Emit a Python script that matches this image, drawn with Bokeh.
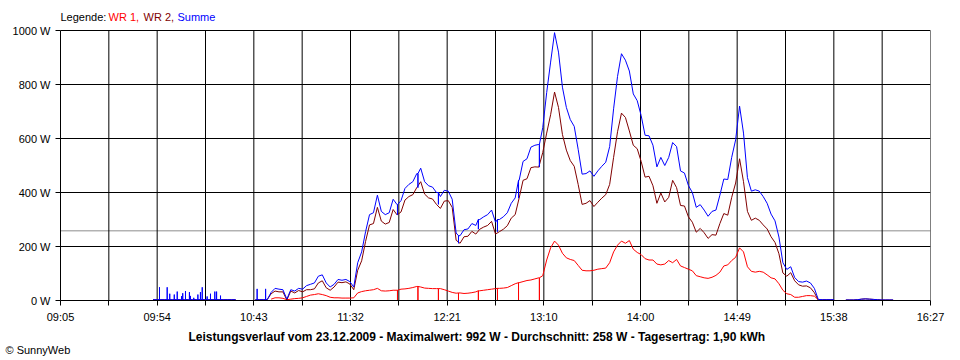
from bokeh.plotting import figure
from bokeh.models import FixedTicker, Span, Label, Range1d, PrintfTickFormatter, CustomJSTickFormatter, Title
from bokeh.embed import file_html
from bokeh.resources import INLINE
import json

# ---- data -------------------------------------------------------------
START_MIN = 545   # 09:05
END_MIN = 987     # 16:27
X_LABELS = ["09:05", "09:54", "10:43", "11:32", "12:21", "13:10", "14:00", "14:49", "15:38", "16:27"]
Y_TICKS = [0, 200, 400, 600, 800, 1000]

FIRST_SAMPLE = 584   # 09:44
SAMPLE_STEP = 2      # minutes

# Summe (W) on the 2-minute grid; None = no data
summe = [
    None, None, None, None, 3, 3, 3, 3, 3, 3,
    3, 3, 3, 3, 3, 3, 3, 3, 3, 3,
    3, 3, 3, 3, 3, 3, None, None, None, None,
    3, 3, 3, 3, 30, 45, 42, 40, 5, 40,
    35, 45, 42, 55, 60, 65, 90, 95, 65, 50,
    60, 78, 75, 78, 70, 50, 140, 180, 255, 318,
    325, 390, 330, 318, 325, 375, 355, 370, 415, 430,
    440, 470, 490, 440, 425, 420, 400, 385, 408, 405,
    375, 250, 240, 262, 265, 285, 278, 300, 310, 318,
    335, 290, 300, 310, 325, 360, 380, 445, 515, 525,
    568, 575, 578, 640, 770, 883, 992, 920, 790, 715,
    670, 645, 560, 468, 470, 480, 460, 480, 497, 512,
    570, 710, 830, 914, 890, 850, 765, 740, 685, 612,
    610, 575, 495, 530, 500, 530, 585, 570, 480, 472,
    426, 400, 345, 355, 335, 312, 330, 335, 390, 450,
    448, 530, 595, 720, 620, 455, 405, 410, 405, 385,
    360, 320, 295, 235, 140, 115, 125, 85, 70, 68,
    72, 65, 45, 4, 3, 3, 3, 3, None, None,
    2, 2, 2, 3, 5, 6, 5, 4, 3, 2,
    2, 2, 2, None,
]

# WR 1 (W) on the same grid; None = no data
wr1 = [None] * 34 + [
    5, 10, 10, 8, 3, 5,
    7, 8, 10, 15, 20, 22, 25, 22, 18, 12,
    10, 10, 9, 9, 9, 10, 28, 33, 36, 38,
    40, 45, 36, 35, 36, 38, 38, 42, 43, 45,
    48, 52, 50, 46, 45, 44, 44, 44, 40, 35,
    30, 27, 28, 26, 27, 29, 32, 36, 38, 40,
    42, 44, 45, 46, 48, 55, 62, 66, 70, 74,
    76, 80, 84, 92, 150, 195, 220, 205, 175, 158,
    152, 148, 130, 112, 110, 110, 112, 116, 118, 120,
    140, 180, 205, 220, 212, 222, 190, 178, 170, 155,
    150, 150, 135, 132, 135, 148, 140, 152, 128, 122,
    116, 110, 92, 88, 84, 82, 86, 93, 105, 128,
    132, 148, 160, 195, 180, 125, 108, 105, 108, 105,
    95, 84, 80, 62, 38, 25, 22, 12, 12, 15,
    18, 18, 16, 3,
] + [None] * 20

# short single-reading spikes of the sum in the morning (minute of day, W)
EARLY_SPIKES = [(595.3, 49), (599.2, 49), (600.5, 25), (602.8, 22), (604.3, 33), (606.5, 16),
                (607.1, 27), (608.5, 35), (610.5, 31), (611.0, 17), (612.7, 10), (614.8, 22),
                (616.1, 31), (617.0, 49), (619.5, 15), (621.2, 25), (623.4, 33), (624.3, 33),
                (626.3, 18), (644.9, 43), (649.2, 43)]
# single readings where WR 1 dropped to 0 W (minute of day)
WR1_DROPOUTS = [716.2, 726.6, 737.0, 747.2, 757.3, 767.0, 777.7, 788.3]

MAXIMUM = 992
AVERAGE = 258
DAY_YIELD = "1,90 kWh"
DATE = "23.12.2009"

# ---- series -----------------------------------------------------------
minutes = [FIRST_SAMPLE + SAMPLE_STEP * i for i in range(len(summe))]
wr2 = [None if s is None else (s if r is None else s - r) for s, r in zip(summe, wr1)]


def grid_index(t):
    return int(round((t - FIRST_SAMPLE) / SAMPLE_STEP))


def with_spikes(times, vals, spikes):
    pts = list(zip(times, vals))
    for t, top in spikes:
        base = vals[grid_index(t)]
        pts += [(t, base), (t, top), (t, base)]
    pts.sort(key=lambda q: q[0])
    return [q[0] for q in pts], [float("nan") if q[1] is None else q[1] for q in pts]


red_x, red_y = with_spikes(minutes, wr1, [(t, 0) for t in WR1_DROPOUTS])
blue_spikes = EARLY_SPIKES + [(t, summe[grid_index(t)] - wr1[grid_index(t)]) for t in WR1_DROPOUTS]
blue_x, blue_y = with_spikes(minutes, summe, blue_spikes)
dred_x, dred_y = with_spikes(minutes, wr2, [])

# ---- figure -----------------------------------------------------------
FONT = "Liberation Sans"
FW = 870
GRID_H = 270          # pixel height of the 0..1000 W grid
TOP_PAD = 30          # pixels above the grid (legend row), inside the frame
FH = GRID_H + TOP_PAD
Y_MAX = 1000
Y_TOP = Y_MAX * FH / GRID_H
ML, MT, MR, MB = 60, 0, 28, 58

p = figure(frame_width=FW, frame_height=FH,
           x_range=Range1d(START_MIN, END_MIN), y_range=Range1d(0, Y_TOP),
           output_backend="svg", toolbar_location=None,
           min_border_left=ML, min_border_top=MT, min_border_right=MR, min_border_bottom=MB)
p.outline_line_color = None
p.background_fill_color = "white"
p.border_fill_color = "white"

step = (END_MIN - START_MIN) / 18
major = [START_MIN + 2 * i * step for i in range(10)]
minor = [START_MIN + (2 * i + 1) * step for i in range(9)]
all_x_ticks = sorted(major + minor)

xa = p.xaxis[0]
xa.ticker = FixedTicker(ticks=major, minor_ticks=minor)
xa.formatter = CustomJSTickFormatter(code="""
const labels = %s;
const i = Math.round((tick - %f) / %f);
return labels[i] ?? "";
""" % (json.dumps(X_LABELS), START_MIN, 2 * step))
xa.major_tick_out = 5
xa.major_tick_in = 0
xa.minor_tick_out = 5
xa.minor_tick_in = 0
xa.axis_line_color = "black"
xa.major_tick_line_color = "black"
xa.minor_tick_line_color = "black"
xa.major_label_standoff = 5
xa.major_label_text_font = FONT
xa.major_label_text_font_size = "11px"
xa.major_label_text_color = "black"

ya = p.yaxis[0]
ya.ticker = FixedTicker(ticks=Y_TICKS, minor_ticks=[])
ya.formatter = PrintfTickFormatter(format="%d W")
ya.bounds = (0, Y_MAX)
ya.major_tick_out = 5
ya.major_tick_in = 0
ya.minor_tick_out = 0
ya.minor_tick_in = 0
ya.axis_line_color = "black"
ya.major_tick_line_color = "black"
ya.major_label_standoff = 5
ya.major_label_text_font = FONT
ya.major_label_text_font_size = "11px"
ya.major_label_text_color = "black"

p.xgrid.visible = False
p.ygrid.grid_line_color = "black"

avg = Span(location=AVERAGE, dimension="width", line_color="#8c8c8c", line_width=1, level="underlay")
p.add_layout(avg)

# vertical grid lines, only over the 0..1000 W band
p.segment(x0=all_x_ticks, y0=[0] * len(all_x_ticks), x1=all_x_ticks, y1=[Y_MAX] * len(all_x_ticks),
          line_color="black", line_width=1)

p.line(red_x, red_y, line_color="#ff0000", line_width=1)
p.line(dred_x, dred_y, line_color="#800000", line_width=1)
p.line(blue_x, blue_y, line_color="#0000ff", line_width=1)

# ---- texts ------------------------------------------------------------
px_per_w = GRID_H / Y_MAX
leg_y = Y_MAX + 13.5 / px_per_w

common = dict(text_font=FONT, text_font_size="11px", text_baseline="middle", text_align="left")
for txt, col, off in [("Legende:", "black", 0), ("WR 1,", "#ff0000", 48),
                      ("WR 2,", "#800000", 83), ("Summe", "#0000ff", 117)]:
    p.add_layout(Label(x=START_MIN, y=leg_y, x_offset=off, text=txt, text_color=col, **common))

title = ("Leistungsverlauf vom %s - Maximalwert: %d W - Durchschnitt: %d W - Tagesertrag: %s"
         % (DATE, MAXIMUM, AVERAGE, DAY_YIELD))
p.add_layout(Title(text=title, align="left", offset=128, text_font=FONT,
                   text_font_size="12px", text_font_style="bold", text_color="black",
                   standoff=5), "below")
p.add_layout(Title(text="© SunnyWeb", align="left", offset=-55, text_font=FONT,
                   text_font_size="11px", text_font_style="normal", text_color="black",
                   standoff=-9), "below")

open("out.html", "w").write(file_html(p, INLINE))
